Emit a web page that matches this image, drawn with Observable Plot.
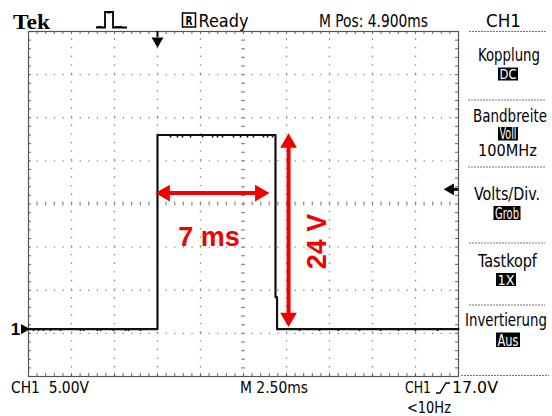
<!DOCTYPE html>
<html>
<head>
<meta charset="utf-8">
<script src="https://cdn.jsdelivr.net/npm/d3@7"></script>
<script src="https://cdn.jsdelivr.net/npm/@observablehq/plot@0.6"></script>
<style>
  html, body { margin: 0; padding: 0; background: #fff; }
  #chart svg { display: block; }
</style>
</head>
<body>
<div id="chart"></div>
<script>
// ---- data (time in ms, voltage in V; 2.50 ms/div, 5.00 V/div) ----
const timeMs = [0, 7.5, 7.5, 14.36, 14.36, 14.45, 14.45, 25];
const volts  = [0, 0, 22.5, 22.5, 3.7, 3.7, 0, 0];
const noiseHighMs = [8.26, 8.66, 8.95, 9.42, 10.12, 10.70, 10.99, 11.28, 11.92, 12.33, 12.73, 13.08, 13.66, 13.90, 14.19];
const noiseLowMs = [0.29, 0.58, 0.87, 1.28, 1.86, 3.02, 3.2, 4.0, 4.19, 4.94, 5.64, 5.81, 6.51, 15.76, 16.92, 18.02, 19.24, 20.47, 21.51, 22.5, 23.78];
const highLevel = 22.5;
const widthArrow = {y: 15.77, t1: 7.38, t2: 14.01, label: "7 ms", labelT: 10.49, labelV: 10.67};
const heightArrow = {t: 15.12, v1: 0.23, v2: 22.7, label: "24 V", labelT: 16.77, labelV: 10.14};
const triggerTimeMs = 7.5;
const triggerMarkV = 16.2;
const groundV = 0;

// screen: 10 x 8 divisions
const xDomain = [0, 25];
const yDomain = [-5.5, 34.5];
const xDiv = 2.5, yDiv = 5;
const xGrid = d3.range(1, 10).filter(k => k !== 5).map(k => xDomain[0] + k * xDiv);
const yGrid = d3.range(1, 8).filter(k => k !== 4).map(k => yDomain[0] + k * yDiv);
const xCenter = xDomain[0] + 5 * xDiv;
const yCenter = yDomain[0] + 4 * yDiv;
const xMinor = d3.range(0, 51).map(k => xDomain[0] + k * xDiv / 5);
const yMinor = d3.range(0, 41).map(k => yDomain[0] + k * yDiv / 5);

// header / side panel / footer labels
const headerLabels = ["Ready", "M Pos: 4.900ms", "CH1"];
const panelTitles = ["Kopplung", "Bandbreite", "Volts/Div.", "Tastkopf", "Invertierung"];
const panelValues = ["DC", "Voll", "Grob", "1X", "Aus"];
const bandwidthLabel = "100MHz";
const footerLabels = ["CH1  5.00V", "M 2.50ms", "CH1", "17.0V", "<10Hz"];

const trace = timeMs.map((t, i) => ({t, v: volts[i]}));
const red = "#f20000";
const gridColor = "#8a8a8a";

const px = 0.0581; // ms per px (for tiny offsets only)
const pv = 0.116;  // V per px

const svg = Plot.plot({
  width: 552, height: 416,
  marginLeft: 28, marginRight: 94, marginTop: 31, marginBottom: 40,
  x: {domain: xDomain, axis: null},
  y: {domain: yDomain, axis: null},
  style: {background: "#fff", overflow: "visible"},
  marks: [
    // dotted graticule
    Plot.ruleX(xGrid, {y1: yDomain[0], y2: yDomain[1], stroke: gridColor, strokeWidth: 1.4, strokeDasharray: "1.3 7.325"}),
    Plot.ruleY(yGrid, {x1: xDomain[0], x2: xDomain[1], stroke: gridColor, strokeWidth: 1.4, strokeDasharray: "1.3 7.3"}),
    // centre lines with minor ticks
    Plot.ruleY(yMinor, {x1: xCenter - 2 * px, x2: xCenter + 2 * px, stroke: gridColor, strokeWidth: 1.2}),
    Plot.ruleX(xMinor, {y1: yCenter - 2 * pv, y2: yCenter + 2 * pv, stroke: gridColor, strokeWidth: 1.2}),
    // border ticks
    Plot.ruleX(xMinor, {y1: yDomain[1], y2: yDomain[1] - 3 * pv, stroke: "#666", strokeWidth: 1}),
    Plot.ruleX(xMinor, {y1: yDomain[0], y2: yDomain[0] + 3 * pv, stroke: "#666", strokeWidth: 1}),
    Plot.ruleY(yMinor, {x1: xDomain[0], x2: xDomain[0] + 3 * px, stroke: "#666", strokeWidth: 1}),
    Plot.ruleY(yMinor, {x1: xDomain[1], x2: xDomain[1] - 3 * px, stroke: "#666", strokeWidth: 1}),
    Plot.frame({stroke: "#555", strokeWidth: 1.2}),
    // trace
    Plot.ruleX(noiseHighMs, {y1: highLevel, y2: highLevel - 3 * pv, stroke: "#111", strokeWidth: 1.6}),
    Plot.ruleX(noiseLowMs, {y1: groundV, y2: groundV - 2.5 * pv, stroke: "#111", strokeWidth: 1.6}),
    Plot.line(trace, {x: "t", y: "v", stroke: "#111", strokeWidth: 2.2}),
    // trigger markers
    Plot.ruleX([triggerTimeMs], {y1: yDomain[1], y2: yDomain[1] - 6 * pv, stroke: "#000", strokeWidth: 2}),
    Plot.dot([triggerTimeMs], {x: d => d, y: yDomain[1], dy: 9.5, symbol: "triangle", rotate: 180, r: 4.4, fill: "#000", stroke: "none"}),
    Plot.ruleY([triggerMarkV], {x1: xDomain[1], x2: xDomain[1] - 6 * px, stroke: "#000", strokeWidth: 3}),
    Plot.dot([triggerMarkV], {x: xDomain[1], y: d => d, dx: -8, symbol: "triangle", rotate: -90, r: 4.4, fill: "#000", stroke: "none"}),
    // ground marker "1>"
    Plot.text(["1"], {x: xDomain[0], y: groundV, dx: -13, text: d => d, fontSize: 17, fontWeight: "bold", fontFamily: "Liberation Sans, Arial, sans-serif", fill: "#000", textAnchor: "middle", lineAnchor: "middle"}),
    Plot.dot([groundV], {x: xDomain[0], y: d => d, dx: -4.5, symbol: "triangle", rotate: 90, r: 3.8, fill: "#000", stroke: "none"}),
    // red annotations
    Plot.ruleY([widthArrow], {y: "y", x1: d => d.t1 + 8 * px, x2: d => d.t2 - 8 * px, stroke: red, strokeWidth: 4}),
    Plot.dot([widthArrow], {x: "t1", y: "y", dx: 9.6, symbol: "triangle", rotate: -90, r: 6.2, fill: red, stroke: "none"}),
    Plot.dot([widthArrow], {x: "t2", y: "y", dx: -9.6, symbol: "triangle", rotate: 90, r: 6.2, fill: red, stroke: "none"}),
    Plot.ruleX([heightArrow], {x: "t", y1: d => d.v1 + 8 * pv, y2: d => d.v2 - 8 * pv, stroke: red, strokeWidth: 4}),
    Plot.dot([heightArrow], {x: "t", y: "v2", dy: 9.6, symbol: "triangle", rotate: 0, r: 6.2, fill: red, stroke: "none"}),
    Plot.dot([heightArrow], {x: "t", y: "v1", dy: -9.6, symbol: "triangle", rotate: 180, r: 6.2, fill: red, stroke: "none"}),
    Plot.text([widthArrow], {x: "labelT", y: "labelV", text: "label", fontSize: 27, fontWeight: "bold", fontFamily: "Liberation Sans, Arial, sans-serif", fill: red, textAnchor: "middle", lineAnchor: "middle"}),
    Plot.text([heightArrow], {x: "labelT", y: "labelV", text: "label", rotate: -90, fontSize: 27, fontWeight: "bold", fontFamily: "Liberation Sans, Arial, sans-serif", fill: red, textAnchor: "middle", lineAnchor: "middle"})
  ]
});

document.getElementById("chart").appendChild(svg);

// ---- instrument chrome (text labels around the screen) ----
const g = d3.select(svg).append("g").attr("text-anchor", "start");
const cond = "'DejaVu Sans Condensed', 'Liberation Sans Narrow', 'DejaVu Sans', sans-serif";
// text is drawn at its natural size, then squeezed horizontally to the wanted width
function label(s, x, y, w, size, opts = {}) {
  const t = g.append("text")
    .attr("x", 0).attr("y", 0)
    .attr("text-anchor", "start")
    .attr("font-family", opts.family || cond)
    .attr("font-size", size)
    .attr("font-weight", opts.weight || "normal")
    .attr("fill", opts.fill || "#000")
    .text(s);
  const nat = t.node().getComputedTextLength() || w;
  const sx = w / nat;
  t.attr("transform", `translate(${x},${y}) scale(${sx},1)`);
  return t;
}
function inverse(s, x, y, w, h) {
  g.append("rect").attr("x", x).attr("y", y).attr("width", w).attr("height", h).attr("fill", "#000");
  label(s, x + 1.5, y + h - 1.2, w - 3, h + 1.5, {fill: "#fff"});
}
function sep(y, x1, x2) {
  g.append("line").attr("x1", x1).attr("x2", x2).attr("y1", y).attr("y2", y)
    .attr("stroke", "#777").attr("stroke-width", 1.2).attr("stroke-dasharray", "2 1");
}

// header
label("Tek", 13, 29, 37, 22, {family: "'Liberation Serif', 'DejaVu Serif', serif", weight: "bold"});
g.append("path").attr("d", "M96,27.5 L105,27.5 L105,12 L113,12 L113,27.5 L127,27.5")
  .attr("fill", "none").attr("stroke", "#000").attr("stroke-width", 1.8);
g.append("path").attr("d", "M97,26 l1,1.5 l1,-1.5 l1,1.5 l1,-1.5 l1,1.5 M115,26 l1,1.5 l1,-1.5 l1,1.5 l1,-1.5 l1,1.5 l1,-1.5 l1,1.5 M107,12 l1,1.5 l1,-1.5 l1,1.5")
  .attr("fill", "none").attr("stroke", "#000").attr("stroke-width", 1);
g.append("rect").attr("x", 182.5).attr("y", 13).attr("width", 13).attr("height", 14)
  .attr("fill", "none").attr("stroke", "#000").attr("stroke-width", 1.5);
label("R", 185.5, 25, 7, 13, {weight: "bold"});
label(headerLabels[0], 198.5, 27, 50, 18.5);
label(headerLabels[1], 319, 26.5, 109, 18);
label(headerLabels[2], 486, 26.5, 35, 18);
sep(31.5, 469, 546);

// side panel
label(panelTitles[0], 478, 61, 62, 17.5);
inverse(panelValues[0], 498, 67.5, 20, 13);
sep(100, 468, 545);
label(panelTitles[1], 473, 122, 74, 17);
inverse(panelValues[1], 498, 127, 20, 13.5);
label(bandwidthLabel, 478, 155.5, 59, 16.5);
sep(167, 468, 545);
label(panelTitles[2], 474, 200, 66, 17.5);
inverse(panelValues[2], 493.5, 206, 27, 14);
sep(243, 469, 545);
label(panelTitles[3], 478, 267, 59, 17.5);
inverse(panelValues[3], 496, 273, 20, 13);
sep(305, 469, 545);
label(panelTitles[4], 465, 326, 82, 17.5);
inverse(panelValues[4], 496, 332.5, 24, 14.5);
sep(375.5, 461, 549);

// footer
label(footerLabels[0], 11, 393, 78, 16);
label(footerLabels[1], 240, 393, 68, 16);
label(footerLabels[2], 405, 393, 26, 16);
g.append("path").attr("d", "M436,393 L440,393 L446,383 L450,383")
  .attr("fill", "none").attr("stroke", "#000").attr("stroke-width", 1.4);
label(footerLabels[3], 452, 393, 46, 16);
label(footerLabels[4], 407, 413, 44, 16);
</script>
</body>
</html>
